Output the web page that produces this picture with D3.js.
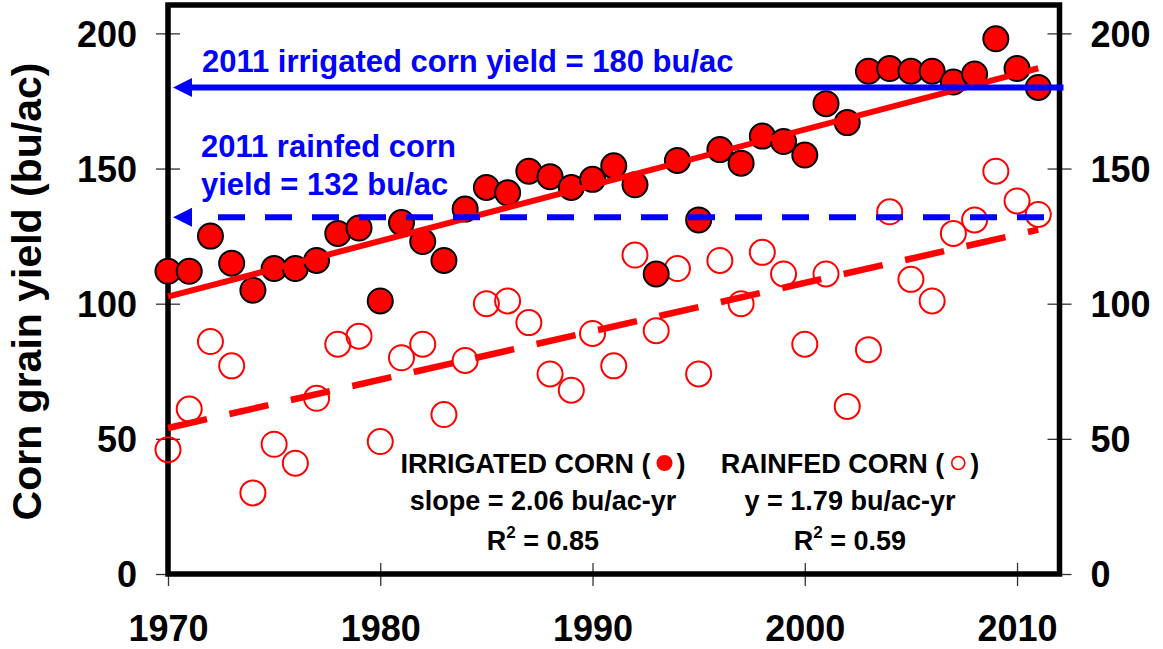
<!DOCTYPE html>
<html>
<head>
<meta charset="utf-8">
<style>
  body{ margin:0; background:#fff; }
  text{ font-family:"Liberation Sans", Arial, sans-serif; font-weight:bold; }
  .tick line{ stroke:#333; stroke-width:1.3; }
  .tick text{ font-size:36px; fill:#000; }
</style>
<script src="https://d3js.org/d3.v7.min.js"></script>
</head>
<body>
<div class="chart"></div>
<script>
// years 1970..2011
const years = [1970,1971,1972,1973,1974,1975,1976,1977,1978,1979,
  1980,1981,1982,1983,1984,1985,1986,1987,1988,1989,
  1990,1991,1992,1993,1994,1995,1996,1997,1998,1999,
  2000,2001,2002,2003,2004,2005,2006,2007,2008,2009,2010,2011];

const irrigated = [112,112,125,115,105,113,113,116,126,128,
  101,130,123,116,135,143,141,149,147,143,
  146,151,144,111,153,131,157,152,162,160,
  155,174,167,186,187,186,186,182,185,198,187,180];

const rainfed = [46,61,86,77,30,48,41,65,85,88,
  49,80,85,59,79,100,101,93,74,68,
  89,77,118,90,113,74,116,100,119,111,
  85,111,62,83,134,109,101,126,131,149,138,133];

// regression line end points
const trendYears = [1970, 2011];
const irrigatedTrend = [102.6, 187.1];
const rainfedTrend = [54, 127.4];

// 2011 reference yields
const irrigated2011 = 180;
const rainfed2011 = 132;

const xTicks = [1970, 1980, 1990, 2000, 2010];
const yTicks = [0, 50, 100, 150, 200];

const width = 1163, height = 649;

const svg = d3.select('.chart').append('svg')
  .attr('width', width)
  .attr('height', height);

const x = d3.scaleLinear().domain([1970, 2012]).range([168, 1059.5]);
const y = d3.scaleLinear().domain([0, 210.5]).range([574, 5]);

// axes with crossing ticks
const gl = svg.append('g').attr('transform', `translate(${x(1970)},0)`)
  .call(d3.axisLeft(y).tickValues(yTicks).tickSize(12).tickPadding(19));
gl.selectAll('.tick line').attr('x2', -12).attr('x1', 12);
gl.selectAll('.tick text').attr('dy', '0.36em');

const gr = svg.append('g').attr('transform', `translate(${x(2012)},0)`)
  .call(d3.axisRight(y).tickValues(yTicks).tickSize(12).tickPadding(19));
gr.selectAll('.tick line').attr('x1', -12).attr('x2', 12);
gr.selectAll('.tick text').attr('dy', '0.36em');

const gb = svg.append('g').attr('transform', `translate(0,${y(0)})`)
  .call(d3.axisBottom(x).tickValues(xTicks).tickFormat(d3.format('d')).tickSize(12));
gb.selectAll('.tick line').attr('y1', -11).attr('y2', 12);
gb.selectAll('.tick text').attr('y', 67).attr('dy', 0);

svg.selectAll('.domain').remove();

// frame
svg.append('rect')
  .attr('x', x(1970)).attr('y', y(210.5))
  .attr('width', x(2012) - x(1970))
  .attr('height', y(0) - y(210.5))
  .attr('fill', 'none')
  .attr('stroke', '#000')
  .attr('stroke-width', 5.5);

// y title
svg.append('text')
  .attr('transform', `translate(41,${(y(0) + y(210.5)) / 2 + 2}) rotate(-90)`)
  .attr('text-anchor', 'middle')
  .style('font-size', '41px')
  .text('Corn grain yield (bu/ac)');

// points
svg.append('g').selectAll('circle')
  .data(years)
  .join('circle')
  .attr('cx', d => x(d))
  .attr('cy', (d, i) => y(rainfed[i]))
  .attr('r', 12.5)
  .attr('fill', 'none')
  .attr('stroke', '#ff0000')
  .attr('stroke-width', 2);

svg.append('g').selectAll('circle')
  .data(years)
  .join('circle')
  .attr('cx', d => x(d))
  .attr('cy', (d, i) => y(irrigated[i]))
  .attr('r', 12.5)
  .attr('fill', '#ff0000')
  .attr('stroke', '#000')
  .attr('stroke-width', 2);

// trend lines
const line = d3.line().x(d => x(d[0])).y(d => y(d[1]));
svg.append('path')
  .datum(trendYears.map((t, i) => [t, irrigatedTrend[i]]))
  .attr('d', line)
  .attr('fill', 'none')
  .attr('stroke', '#ff0000')
  .attr('stroke-width', 6);

svg.append('path')
  .datum(trendYears.map((t, i) => [t, rainfedTrend[i]]))
  .attr('d', line)
  .attr('fill', 'none')
  .attr('stroke', '#ff0000')
  .attr('stroke-width', 6.5)
  .attr('stroke-dasharray', '40,23');

// blue reference lines with arrow heads
const blue = '#0000ff';
const tipX = x(1970) + 5;
const endX = x(2012) + 4;

function arrowHead(yy){
  svg.append('path')
    .attr('d', `M${tipX},${yy} L${tipX + 19},${yy - 9.5} L${tipX + 19},${yy + 9.5} Z`)
    .attr('fill', blue);
}

svg.append('line')
  .attr('x1', tipX + 10).attr('x2', endX)
  .attr('y1', y(irrigated2011)).attr('y2', y(irrigated2011))
  .attr('stroke', blue).attr('stroke-width', 6);
arrowHead(y(irrigated2011));

svg.append('line')
  .attr('x1', tipX + 45).attr('x2', endX)
  .attr('y1', y(rainfed2011)).attr('y2', y(rainfed2011))
  .attr('stroke', blue).attr('stroke-width', 6)
  .attr('stroke-dasharray', '27,20');
arrowHead(y(rainfed2011));

// blue annotations
const ann = svg.append('g').style('font-size', '31px').attr('fill', blue);
ann.append('text').attr('x', 202).attr('y', 72).text('2011 irrigated corn yield = 180 bu/ac');
ann.append('text').attr('x', 201).attr('y', 157).text('2011 rainfed corn');
ann.append('text').attr('x', 201).attr('y', 195).text('yield = 132 bu/ac');

// legend blocks
function legendBlock(cx, title, filled, line2, r2){
  const g = svg.append('g').style('font-size', '27px').attr('fill', '#000');
  const gap = 26;
  const t1 = g.append('text').text(title + ' (');
  const t2 = g.append('text').text(')');
  const w1 = t1.node().getComputedTextLength();
  const w2 = t2.node().getComputedTextLength();
  const total = w1 + gap + w2;
  const x0 = cx - total / 2;
  t1.attr('x', x0).attr('y', 473);
  t2.attr('x', x0 + w1 + gap).attr('y', 473);
  const c = g.append('circle')
    .attr('cx', x0 + w1 + gap / 2 + 1)
    .attr('cy', 463);
  if (filled) {
    c.attr('r', 8).attr('fill', '#ff0000');
  } else {
    c.attr('r', 6.5).attr('fill', 'none').attr('stroke', '#ff0000').attr('stroke-width', 1.6);
  }
  g.append('text').attr('x', cx).attr('y', 510).attr('text-anchor', 'middle').text(line2);
  const t3 = g.append('text').attr('x', cx).attr('y', 550).attr('text-anchor', 'middle');
  t3.append('tspan').text('R');
  t3.append('tspan').attr('dy', -12).style('font-size', '17px').text('2');
  t3.append('tspan').attr('dy', 12).text(' = ' + r2);
}

legendBlock(543, 'IRRIGATED CORN', true, 'slope = 2.06 bu/ac-yr', '0.85');
legendBlock(850, 'RAINFED CORN', false, 'y = 1.79 bu/ac-yr', '0.59');
</script>
</body>
</html>
